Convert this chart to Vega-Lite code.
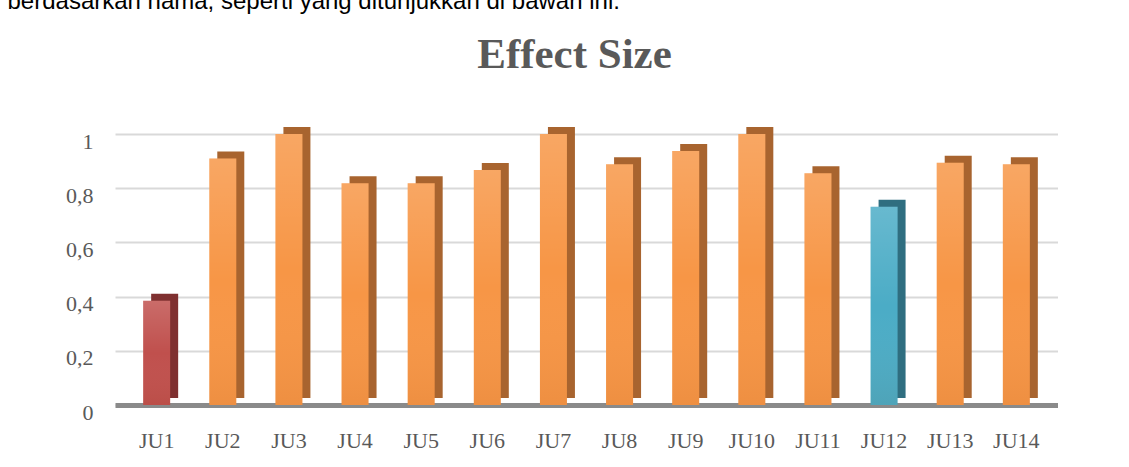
{
  "$schema": "https://vega.github.io/schema/vega-lite/v6.json",
  "background": "white",
  "padding": {"left": 7, "top": -10, "right": 0, "bottom": 0},
  "title": {
    "text": "berdasarkan nama, seperti yang ditunjukkan di bawah ini.",
    "anchor": "start",
    "font": "Liberation Sans",
    "fontSize": 24,
    "fontWeight": "normal",
    "color": "#000000",
    "offset": 20,
    "dx": -58
  },
  "data": {
    "values": [
      {"kode": "JU1", "effect": 0.385, "kategori": "rendah"},
      {"kode": "JU2", "effect": 0.91, "kategori": "tinggi"},
      {"kode": "JU3", "effect": 1.0, "kategori": "tinggi"},
      {"kode": "JU4", "effect": 0.818, "kategori": "tinggi"},
      {"kode": "JU5", "effect": 0.818, "kategori": "tinggi"},
      {"kode": "JU6", "effect": 0.867, "kategori": "tinggi"},
      {"kode": "JU7", "effect": 1.0, "kategori": "tinggi"},
      {"kode": "JU8", "effect": 0.888, "kategori": "tinggi"},
      {"kode": "JU9", "effect": 0.937, "kategori": "tinggi"},
      {"kode": "JU10", "effect": 1.0, "kategori": "tinggi"},
      {"kode": "JU11", "effect": 0.855, "kategori": "tinggi"},
      {"kode": "JU12", "effect": 0.732, "kategori": "sedang"},
      {"kode": "JU13", "effect": 0.894, "kategori": "tinggi"},
      {"kode": "JU14", "effect": 0.888, "kategori": "tinggi"}
    ]
  },
  "vconcat": [
    {
      "title": {
        "text": "Effect Size",
        "font": "Liberation Serif",
        "fontSize": 43,
        "fontWeight": "bold",
        "color": "#595959",
        "anchor": "middle",
        "offset": 50,
        "dx": -12
      },
      "width": 943,
      "height": 271,
      "encoding": {
        "x": {
          "field": "kode",
          "type": "nominal",
          "sort": null,
          "scale": {"paddingInner": 0, "paddingOuter": 0.13},
          "axis": {
            "title": null,
            "labelAngle": 0,
            "ticks": false,
            "tickSize": 0,
            "labelPadding": 25,
            "domain": true,
            "domainColor": "#8a8a8a",
            "domainWidth": 5,
            "grid": false
          }
        },
        "y": {
          "field": "effect",
          "type": "quantitative",
          "scale": {"domain": [0, 1]},
          "axis": {
            "title": null,
            "values": [0, 0.2, 0.4, 0.6, 0.8, 1],
            "labelExpr": "datum.value == 0 ? '0' : datum.value == 1 ? '1' : replace(format(datum.value, '.1f'), '.', ',')",
            "ticks": false,
            "tickSize": 0,
            "domain": false,
            "grid": true,
            "gridColor": "#D9D9D9",
            "gridWidth": 2,
            "labelPadding": 22,
            "labelOffset": 7
          }
        }
      },
      "layer": [
        {
          "mark": {"type": "bar", "width": 27, "xOffset": 8, "yOffset": -7, "y2Offset": -2},
          "encoding": {
            "color": {
              "field": "kategori",
              "type": "nominal",
              "scale": {"domain": ["rendah", "tinggi", "sedang"], "range": ["#7F3030", "#A8642F", "#2F6E80"]},
              "legend": null
            }
          }
        },
        {
          "mark": {"type": "bar", "width": 27},
          "encoding": {
            "color": {
              "field": "kategori",
              "type": "nominal",
              "scale": {"domain": ["rendah", "tinggi", "sedang"], "range": ["#C0504D", "#F79646", "#4BACC6"]},
              "legend": null
            }
          }
        },
        {
          "mark": {
            "type": "bar",
            "width": 27,
            "fill": {
              "gradient": "linear",
              "x1": 0, "y1": 0, "x2": 0, "y2": 1,
              "stops": [
                {"offset": 0, "color": "rgba(255,255,255,0.16)"},
                {"offset": 0.5, "color": "rgba(255,255,255,0)"},
                {"offset": 1, "color": "rgba(120,50,0,0.07)"}
              ]
            }
          }
        }
      ],
      "resolve": {"scale": {"color": "independent"}}
    }
  ],
  "config": {
    "view": {"stroke": null},
    "axis": {
      "labelFont": "Liberation Serif",
      "labelFontSize": 22,
      "labelColor": "#595959"
    }
  }
}
